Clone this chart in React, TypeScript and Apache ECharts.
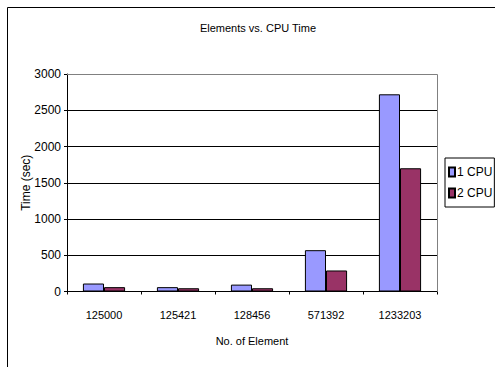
import React, { useEffect, useRef } from "react";
import * as echarts from "echarts";

const categories = ["125000", "125421", "128456", "571392", "1233203"];
const oneCpu = [110, 60, 95, 570, 2720];
const twoCpu = [60, 45, 45, 290, 1700];
const seriesNames = ["1 CPU", "2 CPU"];
const yTicks = { min: 0, max: 3000, interval: 500 };

const FONT = "'Liberation Sans', Arial, sans-serif";

export default function App() {
  const ref = useRef<HTMLDivElement>(null);

  useEffect(() => {
    if (!ref.current) return;
    const chart = echarts.init(ref.current, null, { renderer: "svg" });
    chart.setOption({
      animation: false,
      backgroundColor: "#ffffff",
      textStyle: { fontFamily: FONT, color: "#000" },
      title: {
        text: "Elements vs. CPU Time",
        left: 253,
        top: 17,
        textAlign: "center",
        textStyle: { fontFamily: FONT, fontSize: 11, fontWeight: "normal", color: "#000" },
      },
      graphic: [
        {
          type: "rect",
          shape: { x: 7.5, y: 7.5, width: 700, height: 700 },
          style: { fill: "none", stroke: "#000", lineWidth: 1 },
          silent: true,
        },
        {
          type: "line",
          shape: { x1: 67, y1: 74.5, x2: 437.5, y2: 74.5 },
          style: { stroke: "#808080", lineWidth: 1 },
          z: 5,
        },
        {
          type: "line",
          shape: { x1: 437.5, y1: 74.5, x2: 437.5, y2: 291.5 },
          style: { stroke: "#808080", lineWidth: 1 },
          z: 5,
        },
      ],
      legend: {
        orient: "vertical",
        left: 445,
        top: 158,
        data: seriesNames,
        itemWidth: 6,
        itemHeight: 9,
        itemGap: 9,
        padding: [8, 2, 8, 3],
        borderColor: "#000",
        borderWidth: 1,
        icon: "rect",
        textStyle: { fontFamily: FONT, fontSize: 12, color: "#000", padding: [0, 0, 0, -3] },
      },
      grid: { left: 67, top: 74, right: 58, bottom: 75.5 },
      xAxis: {
        type: "category",
        data: categories,
        name: "No. of Element",
        nameLocation: "middle",
        nameGap: 44,
        nameMoveOverlap: false,
        nameTextStyle: { fontFamily: FONT, fontSize: 11, color: "#000" },
        axisLine: { lineStyle: { color: "#000", width: 1 } },
        axisTick: { show: true, length: 3, lineStyle: { color: "#000" } },
        axisLabel: { fontFamily: FONT, fontSize: 11, color: "#000", margin: 18 },
      },
      yAxis: {
        type: "value",
        min: yTicks.min,
        max: yTicks.max,
        interval: yTicks.interval,
        name: "Time (sec)",
        nameLocation: "middle",
        nameGap: 35,
        nameMoveOverlap: false,
        nameRotate: 90,
        nameTextStyle: { fontFamily: FONT, fontSize: 12, color: "#000" },
        axisLine: { show: true, lineStyle: { color: "#000", width: 1 } },
        axisTick: { show: true, length: 3, lineStyle: { color: "#000" } },
        axisLabel: {
          fontFamily: FONT,
          fontSize: 12,
          color: "#000",
          margin: 6,
          formatter: (v: number) => String(v),
        },
        splitLine: { show: true, lineStyle: { color: "#000", width: 1 } },
      },
      series: [
        {
          name: seriesNames[0],
          type: "bar",
          data: oneCpu,
          barGap: "0%",
          barCategoryGap: "43%",
          itemStyle: { color: "#9999ff", borderColor: "#000", borderWidth: 1 },
        },
        {
          name: seriesNames[1],
          type: "bar",
          data: twoCpu,
          itemStyle: { color: "#993366", borderColor: "#000", borderWidth: 1 },
        },
      ],
    });
    return () => chart.dispose();
  }, []);

  return (
    <div
      ref={ref}
      style={{ position: "fixed", left: 0, top: 0, width: 495, height: 367 }}
    />
  );
}
